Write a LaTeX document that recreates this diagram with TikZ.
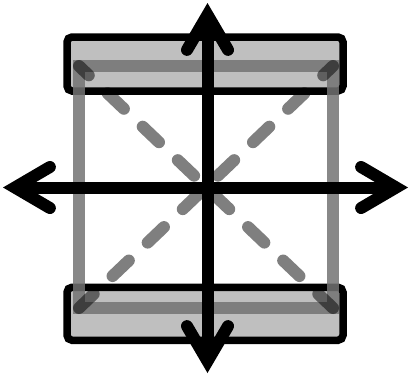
\documentclass[tikz,border=0pt]{standalone}
\usepackage{tikz}
\usetikzlibrary{arrows.meta, positioning}

\tikzset{barb/.tip={Straight Barb[length=35pt, width=41pt, line join=miter, line cap=round]}}

\begin{document}
\begin{tikzpicture}[
    x=1pt, y=-1pt,
    bar/.style={draw, rectangle, rounded corners=5pt, line width=7.5pt,
      fill=black!25, minimum width=276pt, inner sep=0pt},
    frame/.style={line width=12pt, draw=black!55, draw opacity=0.85},
    diag/.style={line width=12pt, draw=black, draw opacity=0.5, line cap=round,
      dash pattern=on 22.5pt off 26pt, dash phase=9pt},
    axis/.style={line width=12pt, barb-barb}
]
\useasboundingbox (0,0) rectangle (409,375);

% the two bars
\node[bar, minimum height=54pt] (topbar) at (205,64) {};
\node[bar, minimum height=53pt] (botbar) at (205,313.75) {};

% square and its diagonals
\coordinate (nw) at (79,66);
\coordinate (ne) at (333,66);
\coordinate (sw) at (79,308);
\coordinate (se) at (333,308);
\draw[frame] (nw) rectangle (se);
\draw[diag] (nw) -- (se);
\draw[diag] (ne) -- (sw);

% axes
\coordinate (leftend) at (3,187.5);
\coordinate (rightend) at (408,187.5);
\coordinate (topend) at (207.5,3);
\coordinate (bottomend) at (207.5,373);
\draw[axis] (leftend) -- (rightend);
\draw[axis] (topend) -- (bottomend);
\end{tikzpicture}
\end{document}
